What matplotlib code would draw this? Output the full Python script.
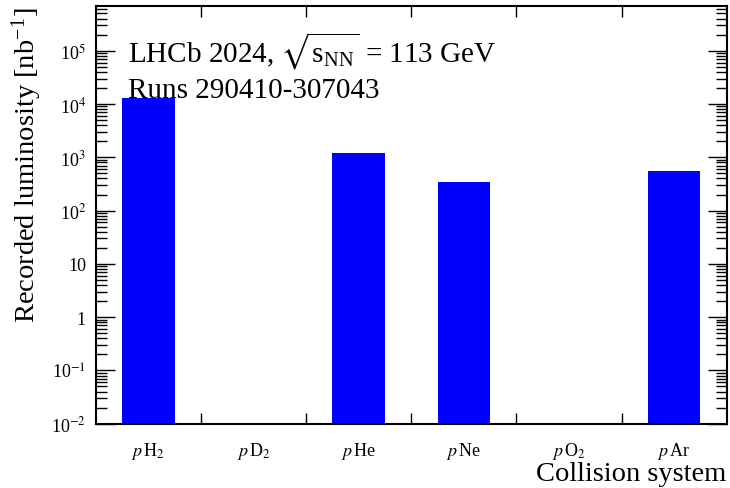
import matplotlib
matplotlib.use("Agg")
import matplotlib.pyplot as plt
import numpy as np
from matplotlib.ticker import LogLocator, FixedLocator, NullFormatter, FuncFormatter

# Data
systems = ["$p\\,$H$_2$", "$p\\,$D$_2$", "$p\\,$He", "$p\\,$Ne", "$p\\,$O$_2$", "$p\\,$Ar"]
luminosity = [12900, 0, 1200, 339, 0, 552]  # nb^-1

plt.rcParams['font.family'] = ['Liberation Serif', 'DejaVu Serif']
plt.rcParams['mathtext.fontset'] = 'stix'

fig = plt.figure(figsize=(7.3, 4.89), dpi=100)
ax = fig.add_axes([0.1311, 0.1315, 0.8644, 0.8542])

x = np.arange(len(systems))
ymin, ymax = 1e-2, 6.9e5
vals = np.array(luminosity, dtype=float)
mask = vals > 0
ax.bar(x[mask], vals[mask] - ymin, bottom=ymin, width=0.5, color='#0000ff',
       edgecolor='none', zorder=2)

ax.set_yscale('log')
ax.set_ylim(ymin, ymax)
ax.set_xlim(-0.5, len(systems) - 0.5)

def yfmt(v, pos):
    e = int(round(np.log10(v)))
    if e == 0:
        return "1"
    if e == 1:
        return "10"
    return "10$^{%d}$" % e

ax.yaxis.set_major_locator(LogLocator(base=10, numticks=20))
ax.yaxis.set_minor_locator(LogLocator(base=10, subs=np.arange(2, 10), numticks=50))
ax.yaxis.set_major_formatter(FuncFormatter(yfmt))
ax.yaxis.set_minor_formatter(NullFormatter())
ax.tick_params(axis='y', which='major', direction='in', length=14, width=1,
               left=True, right=True, labelsize=13, pad=7)
ax.tick_params(axis='y', which='minor', direction='in', length=8, width=1,
               left=True, right=True)

ax.xaxis.set_major_locator(FixedLocator(x))
ax.set_xticklabels(systems)
ax.xaxis.set_minor_locator(FixedLocator(np.arange(0.5, len(systems) - 0.5, 1.0)))
ax.tick_params(axis='x', which='major', length=0, labelsize=13, pad=12)
ax.tick_params(axis='x', which='minor', direction='in', length=8, width=1,
               bottom=True, top=True)

for s in ax.spines.values():
    s.set_linewidth(1.5)

ax.set_ylabel("Recorded luminosity [nb$^{\\mathregular{-1}}$]", fontsize=20.5,
              loc='top', labelpad=5)
ax.set_xlabel("Collision system", fontsize=20.5, loc='right', labelpad=0)

ax.text(0.051, 0.895, "LHCb 2024, $\\sqrt{\\mathregular{s}_{\\mathregular{NN}}}$ = 113 GeV",
        transform=ax.transAxes, fontsize=21, va='center', ha='left')
ax.text(0.051, 0.80, "Runs 290410-307043",
        transform=ax.transAxes, fontsize=21, va='center', ha='left')

fig.savefig("out.png", dpi=100)
